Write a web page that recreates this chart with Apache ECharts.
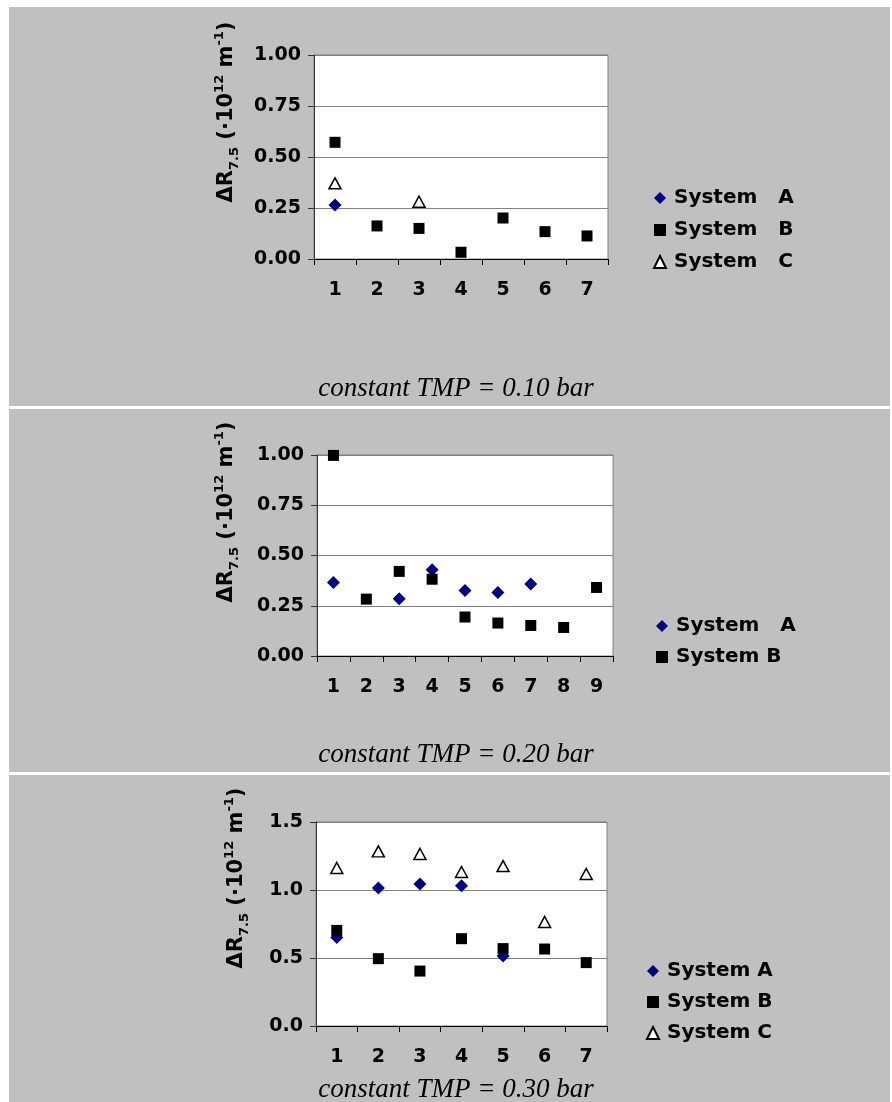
<!DOCTYPE html>
<html><head><meta charset="utf-8">
<script src="https://cdn.jsdelivr.net/npm/echarts@6/dist/echarts.min.js"></script>
<style>html,body{margin:0;padding:0;background:#fff}#c{width:892px;height:1102px}</style>
</head><body><div id="c"></div>
<script>
// ---- data ----
const cats1 = ['1','2','3','4','5','6','7'];
const cats2 = ['1','2','3','4','5','6','7','8','9'];
const cats3 = ['1','2','3','4','5','6','7'];
const p1A = [0.265, null, null, null, null, null, null];
const p1B = [0.572, 0.162, 0.150, 0.033, 0.201, 0.134, 0.113];
const p1C = [0.371, null, 0.281, null, null, null, null];
const p2A = [0.366, null, 0.285, 0.429, 0.326, 0.316, 0.358, null, null];
const p2B = [0.998, 0.283, 0.421, 0.382, 0.194, 0.164, 0.152, 0.142, 0.341];
const p3A = [0.650, 1.015, 1.044, 1.032, 0.515, null, null];
const p3B = [0.703, 0.495, 0.404, 0.642, 0.569, 0.566, 0.466];
const p3C = [1.162, 1.284, 1.265, 1.132, 1.176, 0.765, 1.118];
const legend1 = ['System   A', 'System   B', 'System   C'];
const legend2 = ['System   A', 'System B'];
const legend3 = ['System A', 'System B', 'System C'];
const captions = ['constant TMP = 0.10 bar', 'constant TMP = 0.20 bar', 'constant TMP = 0.30 bar'];
const yRange1 = {min: 0, max: 1, interval: 0.25, digits: 2};
const yRange2 = {min: 0, max: 1, interval: 0.25, digits: 2};
const yRange3 = {min: 0, max: 1.5, interval: 0.5, digits: 1};

// ---- style ----
const F = '"DejaVu Sans", Verdana, sans-serif';
const NAVY = '#000080';
const clean = a => a.map(v => v == null ? '-' : v);

const styleA = {symbol: 'diamond', symbolSize: 13, itemStyle: {color: NAVY, opacity: 1}};
const styleB = {symbol: 'rect', symbolSize: 11, itemStyle: {color: '#000', opacity: 1}};
const styleC = {symbol: 'triangle', symbolSize: [12, 11], itemStyle: {color: '#fff', borderColor: '#000', borderWidth: 1.5, opacity: 1}};

function xAxis(i, cats) {
  return {
    type: 'category', gridIndex: i, data: cats, boundaryGap: true,
    axisLine: {lineStyle: {color: '#000', width: 1}},
    axisTick: {show: true, interval: 0, length: 6, lineStyle: {color: '#000'}},
    axisLabel: {interval: 0, margin: 22, fontFamily: F, fontWeight: 'bold', fontSize: 19, color: '#000'},
    splitLine: {show: false}
  };
}
function yAxis(i, r) {
  return {
    type: 'value', gridIndex: i, min: r.min, max: r.max, interval: r.interval,
    axisLine: {show: true, lineStyle: {color: '#333', width: 1}},
    axisTick: {show: true, length: 6, lineStyle: {color: '#333'}},
    axisLabel: {margin: 13, fontFamily: F, fontWeight: 'bold', fontSize: 19, color: '#000',
      formatter: v => v.toFixed(r.digits)},
    splitLine: {show: true, lineStyle: {color: '#808080', width: 1}}
  };
}
function legend(names, left, top, gap) {
  return {
    data: names, orient: 'vertical', left: left, top: top, padding: 0,
    itemWidth: 12, itemHeight: 12, itemGap: gap, selectedMode: false,
    itemStyle: {opacity: 1},
    textStyle: {fontFamily: F, fontWeight: 'bold', fontSize: 20, color: '#000', lineHeight: 22, padding: [0, 0, 0, 3]}
  };
}
function ser(name, data, style, idx) {
  return Object.assign({type: 'scatter', name: name, xAxisIndex: idx, yAxisIndex: idx, data: clean(data), z: 3}, style);
}
const nameRich = {
  b: {fontFamily: F, fontWeight: 'bold', fontSize: 21, fill: '#000', lineHeight: 28, verticalAlign: 'middle'},
  sub: {fontFamily: F, fontWeight: 'bold', fontSize: 13, fill: '#000', lineHeight: 28, verticalAlign: 'bottom'},
  sup: {fontFamily: F, fontWeight: 'bold', fontSize: 13, fill: '#000', lineHeight: 28, verticalAlign: 'top'}
};
const nameText = '{b|ΔR}{sub|7.5}{b| (·10}{sup|12}{b| m}{sup|-1}{b|)}';
function yName(x, y) {
  return {type: 'text', x: x, y: y, rotation: Math.PI / 2, z: 10,
    style: {text: nameText, rich: nameRich, align: 'center', verticalAlign: 'middle',
      textAlign: 'center', textVerticalAlign: 'middle'}};
}
function caption(txt, y) {
  return {type: 'text', x: 456, y: y, z: 10,
    style: {text: txt, font: 'italic 27px "Liberation Serif", "Times New Roman", serif', fill: '#000',
      align: 'center', verticalAlign: 'middle', textAlign: 'center', textVerticalAlign: 'middle'}};
}
function bg(y, h) {
  return {type: 'rect', z: -100, shape: {x: 9, y: y, width: 881, height: h}, style: {fill: '#c0c0c0'}};
}

const chart = echarts.init(document.getElementById('c'), null, {renderer: 'canvas'});
chart.setOption({
  backgroundColor: '#fff',
  animation: false,
  graphic: [
    bg(7, 399), bg(409, 363), bg(775, 327),
    yName(227, 112), yName(227, 512), yName(237, 878),
    caption(captions[0], 389), caption(captions[1], 755), caption(captions[2], 1090)
  ],
  grid: [
    {left: 314, top: 55, width: 294, height: 204, show: true, backgroundColor: '#fff', borderColor: '#808080', borderWidth: 1},
    {left: 317, top: 455, width: 296, height: 201, show: true, backgroundColor: '#fff', borderColor: '#808080', borderWidth: 1},
    {left: 316, top: 822, width: 291, height: 204, show: true, backgroundColor: '#fff', borderColor: '#808080', borderWidth: 1}
  ],
  xAxis: [xAxis(0, cats1), xAxis(1, cats2), xAxis(2, cats3)],
  yAxis: [yAxis(0, yRange1), yAxis(1, yRange2), yAxis(2, yRange3)],
  legend: [legend(legend1, 653, 187, 10), legend(legend2, 656, 615, 9), legend(legend3, 646, 960, 9)],
  series: [
    ser(legend1[1], p1B, styleB, 0),
    ser(legend1[2], p1C, styleC, 0),
    ser(legend1[0], p1A, styleA, 0),
    ser(legend2[0], p2A, styleA, 1),
    ser(legend2[1], p2B, styleB, 1),
    ser(legend3[0], p3A, styleA, 2),
    ser(legend3[1], p3B, styleB, 2),
    ser(legend3[2], p3C, styleC, 2)
  ]
});
</script></body></html>
